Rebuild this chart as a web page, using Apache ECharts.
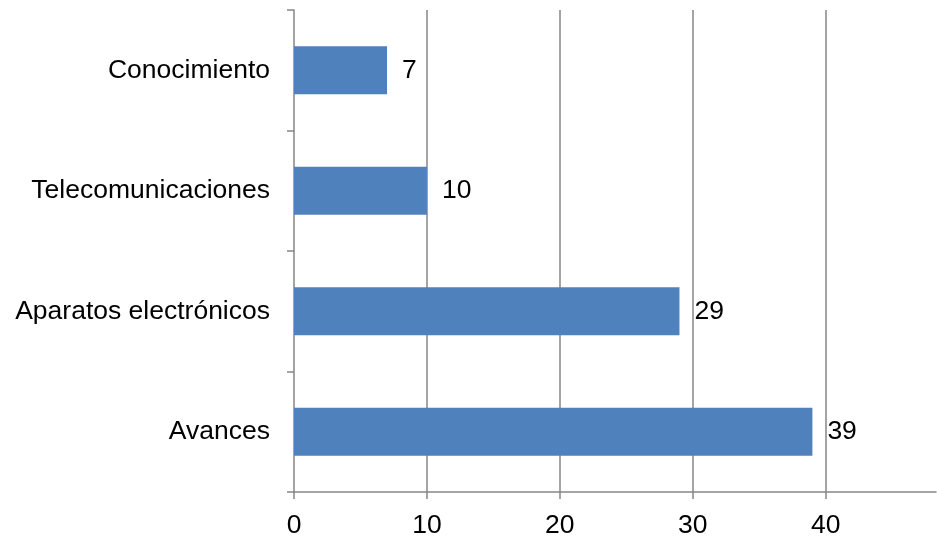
<!DOCTYPE html>
<html>
<head>
<meta charset="utf-8">
<script src="https://cdn.jsdelivr.net/npm/echarts@6/dist/echarts.min.js"></script>
<style>
html,body{margin:0;padding:0;background:#fff;}
#c{width:937px;height:537px;}
</style>
</head>
<body>
<div id="c"></div>
<script>
const categories = ['Avances', 'Aparatos electrónicos', 'Telecomunicaciones', 'Conocimiento'];
const values = [39, 29, 10, 7];
const xTicks = [0, 10, 20, 30, 40];

const chart = echarts.init(document.getElementById('c'));
const axisColor = '#868686';
const font = 'Liberation Sans, Arial, sans-serif';
chart.setOption({
  animation: false,
  grid: {left: 294, right: 1, top: 10, bottom: 45, containLabel: false, outerBoundsMode: 'none'},
  xAxis: {
    type: 'value',
    min: 0,
    max: 48.3,
    interval: 10,
    axisLine: {show: true, lineStyle: {color: axisColor, width: 1.5}},
    axisTick: {show: true, length: 7, lineStyle: {color: axisColor, width: 1.5}, customValues: xTicks},
    axisLabel: {color: '#000', fontFamily: font, fontSize: 26.5, margin: 20, customValues: xTicks},
    splitLine: {show: true, showMinLine: false, lineStyle: {color: axisColor, width: 1.5}}
  },
  yAxis: {
    type: 'category',
    data: categories,
    axisLine: {show: true, lineStyle: {color: axisColor, width: 1.5}},
    axisTick: {show: true, length: 7, lineStyle: {color: axisColor, width: 1.5}},
    axisLabel: {color: '#000', fontFamily: font, fontSize: 26.5, margin: 24}
  },
  series: [{
    type: 'bar',
    data: values,
    barWidth: 48,
    itemStyle: {color: '#4F81BD'},
    label: {show: true, position: 'right', distance: 15, color: '#000', fontFamily: font, fontSize: 26.5}
  }]
});
</script>
</body>
</html>
